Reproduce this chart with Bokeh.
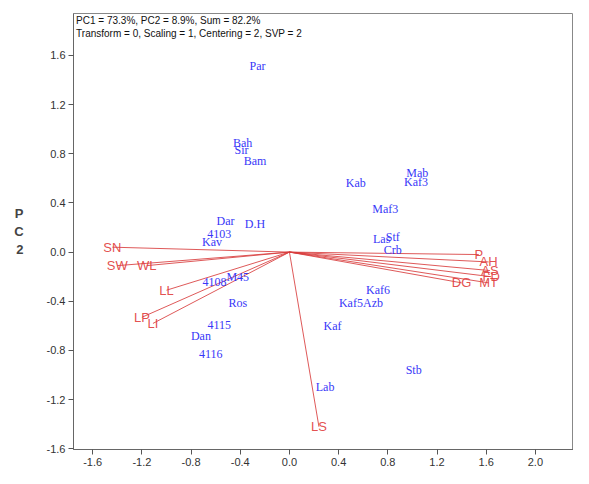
from bokeh.plotting import figure
from bokeh.models import ColumnDataSource, Range1d, FixedTicker, PrintfTickFormatter, Label
from bokeh.core.properties import value
from bokeh.embed import file_html
from bokeh.resources import INLINE

# Sample scores (PC1, PC2)
sample_names = ["Par", "Bah", "Sir", "Bam", "Kab", "Mab", "Kaf3", "Maf3", "Dar", "D.H",
                "4103", "Kav", "Las", "Stf", "Crb", "Kaf6", "Kaf5", "Azb", "Kaf", "Stb",
                "Lab", "M45", "4108", "Ros", "4115", "Dan", "4116"]
sample_pc1 = [-0.26, -0.38, -0.39, -0.28, 0.54, 1.04, 1.03, 0.78, -0.52, -0.28,
              -0.57, -0.63, 0.75, 0.84, 0.84, 0.72, 0.50, 0.68, 0.35, 1.01,
              0.29, -0.42, -0.61, -0.42, -0.57, -0.72, -0.64]
sample_pc2 = [1.51, 0.89, 0.83, 0.74, 0.56, 0.64, 0.57, 0.35, 0.25, 0.23,
              0.15, 0.08, 0.11, 0.12, 0.02, -0.31, -0.41, -0.41, -0.60, -0.96,
              -1.10, -0.20, -0.24, -0.41, -0.59, -0.68, -0.83]

# Variable loadings (PC1, PC2)
var_names = ["SN", "SW", "WL", "LL", "LP", "LI", "LS", "P", "AH", "AS", "FD", "MT", "DG"]
var_pc1 = [-1.44, -1.40, -1.16, -1.00, -1.20, -1.11, 0.24, 1.54, 1.62, 1.63, 1.64, 1.62, 1.40]
var_pc2 = [0.04, -0.11, -0.11, -0.31, -0.53, -0.58, -1.42, -0.02, -0.08, -0.15, -0.20, -0.25, -0.25]

header_1 = "PC1 = 73.3%, PC2 = 8.9%, Sum = 82.2%"
header_2 = "Transform = 0, Scaling = 1, Centering = 2, SVP = 2"
x_ticks = [-1.6, -1.2, -0.8, -0.4, 0.0, 0.4, 0.8, 1.2, 1.6, 2.0]
y_ticks = [-1.6, -1.2, -0.8, -0.4, 0.0, 0.4, 0.8, 1.2, 1.6]

p = figure(width=573, height=468, output_backend="svg", toolbar_location=None,
           x_range=Range1d(-1.756, 2.31), y_range=Range1d(-1.605, 1.94),
           min_border_left=73, min_border_top=13, min_border_right=0, min_border_bottom=10)
p.xgrid.visible = False
p.ygrid.visible = False
p.outline_line_color = "#888888"
p.outline_line_width = 1

for ax in (p.xaxis[0], p.yaxis[0]):
    ax.axis_line_color = "#666666"
    ax.major_tick_line_color = "#555555"
    ax.major_tick_out = 5
    ax.major_tick_in = 0
    ax.minor_tick_line_color = None
    ax.major_label_text_font = "Liberation Sans"
    ax.major_label_text_font_size = "11px"
    ax.major_label_text_color = "#333333"
    ax.formatter = PrintfTickFormatter(format="%.1f")
    ax.major_label_standoff = 3

p.xaxis[0].ticker = FixedTicker(ticks=x_ticks)
p.yaxis[0].ticker = FixedTicker(ticks=y_ticks)
p.yaxis[0].axis_label = "P\nC\n2"
p.yaxis[0].axis_label_orientation = "horizontal"
p.yaxis[0].axis_label_text_font = "Liberation Sans"
p.yaxis[0].axis_label_text_font_style = "bold"
p.yaxis[0].axis_label_text_font_size = "13px"
p.yaxis[0].axis_label_standoff = 20

vsrc = ColumnDataSource(dict(x0=[0.0] * len(var_names), y0=[0.0] * len(var_names),
                             x=var_pc1, y=var_pc2, name=var_names))
p.segment(x0="x0", y0="y0", x1="x", y1="y", source=vsrc, line_color="#d83c3c",
          line_width=1, line_alpha=0.85)
p.text(x="x", y="y", text="name", source=vsrc, text_color="#e03a3a",
       text_font=value("Liberation Sans"), text_font_size="13px",
       text_align="center", text_baseline="middle", text_alpha=0.9)

ssrc = ColumnDataSource(dict(x=sample_pc1, y=sample_pc2, name=sample_names))
p.text(x="x", y="y", text="name", source=ssrc, text_color="#3838f8",
       text_font=value("Liberation Serif"), text_font_size="12px",
       text_align="center", text_baseline="middle")

p.add_layout(Label(x=-1.735, y=1.925, text=header_1, text_font="Liberation Sans",
                   text_font_size="10px", text_color="#111111", text_baseline="top"))
p.add_layout(Label(x=-1.735, y=1.82, text=header_2, text_font="Liberation Sans",
                   text_font_size="10px", text_color="#111111", text_baseline="top"))

open("out.html", "w").write(file_html(p, INLINE))
